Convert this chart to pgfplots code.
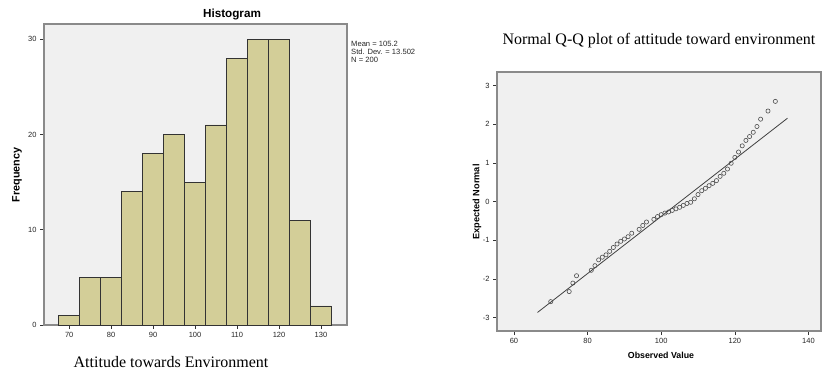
\documentclass[border=0pt]{standalone}
\usepackage{pgfplots}
\pgfplotsset{compat=1.18}
\usepackage{fontspec}
\setmainfont{Liberation Sans}
\newfontfamily\serif{Liberation Serif}
\definecolor{bgc}{HTML}{F0F0F0}
\definecolor{barc}{HTML}{D3CE98}
\definecolor{framec}{HTML}{8A8A8A}
\begin{document}
\begin{tikzpicture}[x=1pt,y=1pt]
\useasboundingbox (0,0) rectangle (822,373);
\pgfplotsset{spss/.style={
  scale only axis,
  axis background/.style={fill=bgc},
  axis line style={framec,line width=1.3pt},
  tick style={black!80,line width=0.5pt},
  tick align=outside,
  major tick length=4pt,
  ticklabel style={font=\fontsize{7.5}{7.5}\selectfont,text=black!85},
  xtick pos=bottom, ytick pos=left,
}}
% ---------------- Histogram ----------------
\begin{axis}[spss,
  at={(44pt,48pt)}, anchor=south west,
  width=303pt, height=301pt,
  xmin=64.0, xmax=136.2, ymin=0, ymax=31.6,
  xtick={70,80,90,100,110,120,130},
  xticklabels={70,80,90,100,110,120,130},
  ytick={0,10,20,30}, yticklabels={0,10,20,30},
]
\addplot[ybar interval, fill=barc, draw=black!80, line width=0.7pt]
  coordinates {(67.5,1) (72.5,5) (77.5,5) (82.5,14) (87.5,18) (92.5,20)
  (97.5,15) (102.5,21) (107.5,28) (112.5,30) (117.5,30) (122.5,11)
  (127.5,2) (132.5,2)};
\end{axis}
\node[font=\bfseries\fontsize{11.7}{11.7}\selectfont] at (232,358) {Histogram};
\node[rotate=90,font=\bfseries\fontsize{10.8}{10.8}\selectfont] at (17,198) {Frequency};
\node[font=\serif\fontsize{16}{16}\selectfont] at (171,11) {Attitude towards Environment};
\node[anchor=north west,align=left,inner sep=0pt,font=\fontsize{7.6}{8}\selectfont,text=black!85] at (351,332)
  {Mean = 105.2\\Std. Dev. = 13.502\\N = 200};
% ---------------- Q-Q plot ----------------
\begin{axis}[spss,
  at={(497pt,42pt)}, anchor=south west,
  width=324pt, height=259pt,
  xmin=55.4, xmax=143.4, ymin=-3.35, ymax=3.35,
  xtick={60,80,100,120,140}, xticklabels={60,80,100,120,140},
  ytick={-3,-2,-1,0,1,2,3}, yticklabels={-3,-2,-1,0,1,2,3},
]
\addplot[black!75, line width=0.8pt] coordinates {(66.4,-2.87) (134.3,2.155)};
\addplot[only marks, mark=o, mark size=2.1pt, mark options={draw=black!70,line width=0.6pt}]
  coordinates {
  (70,-2.59) (75,-2.33) (76,-2.11) (77,-1.92) (81,-1.78) (82,-1.66)
  (83,-1.51) (84,-1.44) (85,-1.38) (86,-1.29) (87,-1.19) (88,-1.10)
  (89,-1.03) (90,-0.97) (91,-0.91) (92,-0.82) (94,-0.72) (95,-0.62)
  (96,-0.53) (98,-0.46) (99,-0.39) (100,-0.34) (101,-0.30) (102,-0.27)
  (103,-0.23) (104,-0.19) (105,-0.15) (106,-0.10) (107,-0.05) (108,-0.02)
  (109,0.07) (110,0.18) (111,0.28) (112,0.34) (113,0.41) (114,0.47)
  (115,0.54) (116,0.65) (117,0.73) (118,0.84) (119,0.99) (120,1.14)
  (121,1.28) (122,1.44) (123,1.58) (124,1.68) (125,1.79) (126,1.94)
  (127,2.13) (129,2.34) (131,2.59)};
\end{axis}
\node[font=\serif\fontsize{16}{16}\selectfont] at (659,332) {Normal Q-Q plot of attitude toward environment};
\node[rotate=90,font=\bfseries\fontsize{9.2}{9.2}\selectfont] at (477,171) {Expected Normal};
\node[font=\bfseries\fontsize{8.8}{8.8}\selectfont] at (661,18) {Observed Value};
\end{tikzpicture}
\end{document}
